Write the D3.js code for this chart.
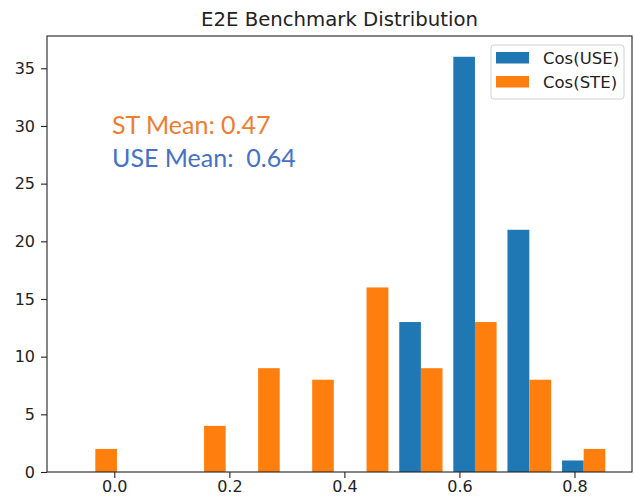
<!DOCTYPE html>
<html>
<head>
<meta charset="utf-8">
<script src="https://cdn.jsdelivr.net/npm/d3@7"></script>
<style>
  body { margin: 0; background: #fff; }
  text { font-family: "DejaVu Sans", sans-serif; }
</style>
</head>
<body>
<div id="chart"></div>
<script>
// ---------------- DATA ----------------
// histogram bin edges (10 bins)
var binEdges = [-0.080, 0.014, 0.109, 0.203, 0.297, 0.391, 0.486, 0.580, 0.674, 0.769, 0.863];
// counts per bin
var useCounts = [0, 0, 0, 0, 0, 0, 13, 36, 21, 1];
var steCounts = [2, 0, 4, 9, 8, 16, 9, 13, 8, 2];
var seriesNames = ["Cos(USE)", "Cos(STE)"];
var seriesColors = ["#1f77b4", "#ff7f0e"];
var xTicks = [0.0, 0.2, 0.4, 0.6, 0.8];
var yTicks = [0, 5, 10, 15, 20, 25, 30, 35];
var notes = ["ST Mean: 0.47", "USE Mean:  0.64"];
var noteColors = ["#ed7d31", "#4472c4"];

// ---------------- CANVAS ----------------
var svgWidth = 634, svgHeight = 498;
var margin = {left: 47, right: 2, top: 36, bottom: 26};

var svg = d3.select("#chart").append("svg")
  .attr("width", svgWidth)
  .attr("height", svgHeight);

// ---------------- SCALES ----------------
var x = d3.scaleLinear()
  .domain([-0.117, 0.900])
  .range([margin.left, svgWidth - margin.right]);

var y = d3.scaleLinear()
  .domain([0, 37.8])
  .range([svgHeight - margin.bottom, margin.top]);

// build bars: each bin split as matplotlib does (0.1 offset, 0.4 width per series)
var bars = [];
[useCounts, steCounts].forEach(function(counts, s) {
  counts.forEach(function(c, i) {
    var w = binEdges[i + 1] - binEdges[i];
    bars.push({
      s: s,
      x0: binEdges[i] + w * (0.1 + 0.4 * s),
      x1: binEdges[i] + w * (0.5 + 0.4 * s),
      v: c
    });
  });
});

svg.append("g").selectAll("rect")
  .data(bars.filter(d => d.v > 0))
  .enter()
  .append("rect")
    .attr("x", d => x(d.x0))
    .attr("width", d => x(d.x1) - x(d.x0))
    .attr("y", d => y(d.v))
    .attr("height", d => y(0) - y(d.v))
    .attr("fill", d => seriesColors[d.s]);

// ---------------- AXES ----------------
var xAxis = d3.axisBottom(x).tickValues(xTicks).tickFormat(d3.format(".1f"))
  .tickSizeInner(6).tickSizeOuter(0).tickPadding(3);
var yAxis = d3.axisLeft(y).tickValues(yTicks)
  .tickSizeInner(6).tickSizeOuter(0).tickPadding(6);

var gx = svg.append("g")
  .attr("transform", `translate(0, ${y(0)})`)
  .call(xAxis);
var gy = svg.append("g")
  .attr("transform", `translate(${margin.left}, 0)`)
  .call(yAxis);

[gx, gy].forEach(function(g) {
  g.select(".domain").remove();
  g.selectAll("text").attr("fill", "#222").style("font-size", "16px")
    .style("font-family", "DejaVu Sans");
  g.selectAll("line").attr("stroke", "#222").attr("stroke-width", 1.1);
});

// frame
svg.append("rect")
  .attr("x", x.range()[0])
  .attr("y", y.range()[1])
  .attr("width", x.range()[1] - x.range()[0])
  .attr("height", y.range()[0] - y.range()[1])
  .attr("fill", "none")
  .attr("stroke", "#222")
  .attr("stroke-width", 1.1);

// title
svg.append("text")
  .attr("x", (x.range()[0] + x.range()[1]) / 2)
  .attr("y", 26)
  .attr("text-anchor", "middle")
  .attr("fill", "#222")
  .style("font-size", "19.7px")
  .text("E2E Benchmark Distribution");

// mean notes
svg.append("g").selectAll("text")
  .data(notes)
  .enter()
  .append("text")
    .attr("x", 112)
    .attr("y", (d, i) => 134 + i * 33)
    .attr("fill", (d, i) => noteColors[i])
    .style("font-family", "Lato, sans-serif")
    .style("font-size", "25px")
    .style("white-space", "pre")
    .text(d => d);

// legend
var legend = svg.append("g");
legend.append("rect")
  .attr("x", 491).attr("y", 45)
  .attr("width", 133).attr("height", 54)
  .attr("rx", 3)
  .attr("fill", "#fff").attr("fill-opacity", 0.8)
  .attr("stroke", "#d0d0d0");
seriesNames.forEach(function(name, i) {
  legend.append("rect")
    .attr("x", 496).attr("y", 52 + i * 24)
    .attr("width", 33).attr("height", 11.5)
    .attr("fill", seriesColors[i]);
  legend.append("text")
    .attr("x", 543).attr("y", 63.5 + i * 24)
    .attr("fill", "#222")
    .style("font-size", "16.5px")
    .text(name);
});
</script>
</body>
</html>
